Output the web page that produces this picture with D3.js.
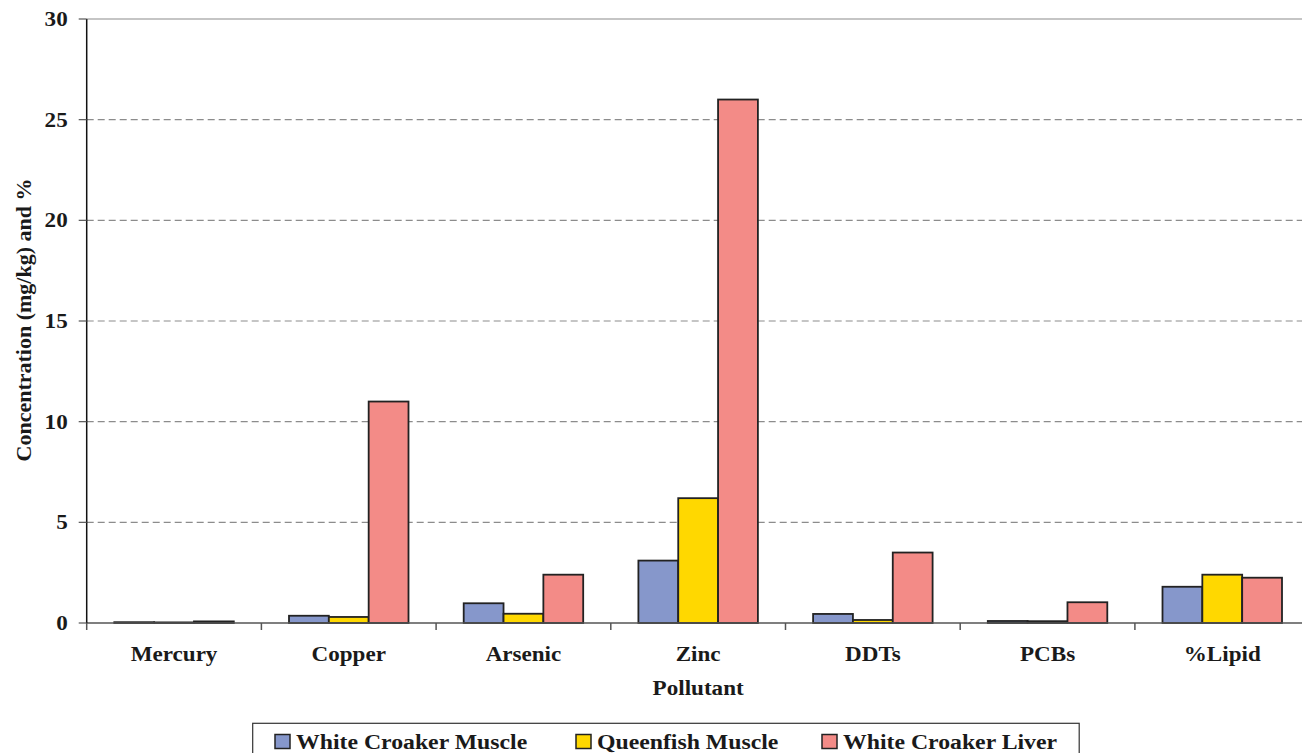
<!DOCTYPE html>
<html>
<head>
<meta charset="utf-8">
<script src="https://cdn.jsdelivr.net/npm/d3@7/dist/d3.min.js"></script>
<style>
  html, body { margin: 0; padding: 0; background: #fff; }
  svg { display: block; }
  text { font-family: "Liberation Serif", "Times New Roman", serif; font-weight: bold; fill: #1a1a1a; }
</style>
</head>
<body>
<svg id="chart" width="1302" height="753"></svg>
<script>
const categories = ["Mercury", "Copper", "Arsenic", "Zinc", "DDTs", "PCBs", "%Lipid"];
const seriesNames = ["White Croaker Muscle", "Queenfish Muscle", "White Croaker Liver"];
const whiteCroakerMuscle = [0.04, 0.36, 0.98, 3.1, 0.45, 0.1, 1.8];
const queenfishMuscle    = [0.03, 0.3, 0.46, 6.2, 0.15, 0.09, 2.4];
const whiteCroakerLiver  = [0.08, 11.0, 2.4, 26.0, 3.5, 1.03, 2.25];
const yTicks = [0, 5, 10, 15, 20, 25, 30];
const colors = ["#8697CB", "#FFD800", "#F38B87"];

const series = [whiteCroakerMuscle, queenfishMuscle, whiteCroakerLiver];
const rows = categories.map((c, i) => ({ cat: c, values: series.map(s => s[i]) }));

const svg = d3.select("#chart");
const x0 = 86.7, bandW = 174.7;
const x = d3.scaleBand().domain(categories).range([x0, x0 + bandW * categories.length]).padding(0);
const xs = d3.scaleBand().domain(d3.range(series.length)).range([27.6, bandW - 27.6]).padding(0);
const y = d3.scaleLinear().domain([0, 30]).range([623, 19]);

// gridlines
svg.append("g").selectAll("line").data(yTicks.filter(t => t > 0)).join("line")
  .attr("x1", x0).attr("x2", 1302)
  .attr("y1", d => y(d)).attr("y2", d => y(d))
  .attr("stroke", "#8c8c8c").attr("stroke-width", 1.2)
  .attr("stroke-dasharray", d => d === 30 ? null : "7,4");

// bars
const g = svg.append("g").selectAll("g").data(rows).join("g")
  .attr("transform", d => `translate(${x(d.cat)},0)`);
g.selectAll("rect").data(d => d.values.map((v, i) => ({ v, i }))).join("rect")
  .attr("x", d => xs(d.i))
  .attr("width", xs.bandwidth())
  .attr("y", d => y(d.v))
  .attr("height", d => y(0) - y(d.v))
  .attr("fill", d => colors[d.i])
  .attr("stroke", "#222")
  .attr("stroke-width", 1.8);

// x axis
const xAxis = svg.append("g").attr("transform", `translate(0,${y(0)})`);
xAxis.append("line").attr("x1", x0).attr("x2", 1302).attr("y1", 0).attr("y2", 0)
  .attr("stroke", "#555").attr("stroke-width", 1.5);
xAxis.selectAll("line.tk").data(d3.range(categories.length)).join("line").attr("class", "tk")
  .attr("x1", i => x0 + bandW * i).attr("x2", i => x0 + bandW * i)
  .attr("y1", 0).attr("y2", 7).attr("stroke", "#555").attr("stroke-width", 1.5);
xAxis.selectAll("text").data(categories).join("text")
  .attr("transform", d => `translate(${x(d) + x.bandwidth() / 2},38) scale(1.1,1)`)
  .attr("text-anchor", "middle").attr("font-size", 21).text(d => d);

// y axis
const yAxis = svg.append("g").attr("transform", `translate(${x0},0)`);
yAxis.append("line").attr("x1", 0).attr("x2", 0).attr("y1", y(30)).attr("y2", y(0))
  .attr("stroke", "#111").attr("stroke-width", 1.5);
yAxis.selectAll("line.tk").data(yTicks).join("line").attr("class", "tk")
  .attr("x1", -8).attr("x2", 0).attr("y1", d => y(d)).attr("y2", d => y(d))
  .attr("stroke", "#555").attr("stroke-width", 1.2);
yAxis.selectAll("text").data(yTicks).join("text")
  .attr("transform", d => `translate(-19,${y(d) + 7}) scale(1.1,1)`)
  .attr("text-anchor", "end").attr("font-size", 21).text(d => d);

// axis titles
svg.append("text")
  .attr("transform", `translate(${x0 + bandW * 3.5},695) scale(1.1,1)`)
  .attr("text-anchor", "middle").attr("font-size", 21).text("Pollutant");
svg.append("text")
  .attr("transform", `translate(31,320) rotate(-90)`)
  .attr("text-anchor", "middle").attr("font-size", 22).text("Concentration (mg/kg) and %");

// legend
const leg = svg.append("g");
leg.append("rect").attr("x", 252.7).attr("y", 723.3).attr("width", 826.5).attr("height", 45)
  .attr("fill", "#fff").attr("stroke", "#333").attr("stroke-width", 1.2);
const legX = [275, 576, 822];
const li = leg.selectAll("g").data(seriesNames).join("g")
  .attr("transform", (d, i) => `translate(${legX[i]},0)`);
li.append("rect").attr("x", 0).attr("y", 734.5).attr("width", 15).attr("height", 14)
  .attr("fill", (d, i) => colors[i]).attr("stroke", "#222").attr("stroke-width", 1.5);
li.append("text")
  .attr("transform", "translate(21,748.5) scale(1.08,1)")
  .attr("font-size", 22).text(d => d);
</script>
</body>
</html>
